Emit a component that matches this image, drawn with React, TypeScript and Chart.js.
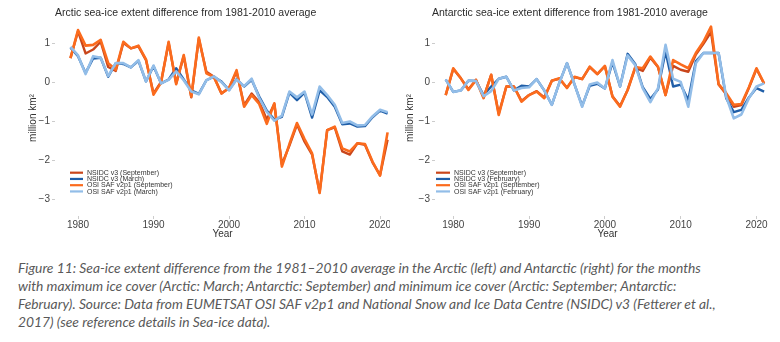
import React, { useEffect, useRef } from "react";
import { Chart, registerables } from "chart.js";

Chart.register(...registerables);

// ---------- data ----------
const YEARS = [
  1979, 1980, 1981, 1982, 1983, 1984, 1985, 1986, 1987, 1988, 1989, 1990, 1991, 1992, 1993,
  1994, 1995, 1996, 1997, 1998, 1999, 2000, 2001, 2002, 2003, 2004, 2005, 2006, 2007, 2008,
  2009, 2010, 2011, 2012, 2013, 2014, 2015, 2016, 2017, 2018, 2019, 2020, 2021,
];

const ARCTIC_NSIDC_SEP = [
  0.63, 1.32, 0.75, 0.85, 1.05, 0.4, 0.3, 1.02, 0.88, 0.93, 0.58, -0.28, 0.02, 1.02, -0.02,
  0.68, -0.38, 1.13, 0.28, 0.15, -0.28, -0.14, 0.28, -0.58, -0.28, -0.5, -0.95, -0.55, -2.1, -1.62,
  -1.08, -1.52, -1.85, -2.82, -1.22, -1.15, -1.77, -1.85, -1.56, -1.6, -2.05, -2.38, -1.47,
];
const ARCTIC_NSIDC_MAR = [
  0.9, 0.68, 0.25, 0.62, 0.64, 0.15, 0.5, 0.48, 0.39, 0.56, 0.03, 0.42, -0.02, 0.08, 0.37,
  0.08, -0.2, -0.29, 0.06, 0.15, 0.03, -0.19, 0.09, -0.1, 0.07, -0.36, -0.72, -0.95, -0.88, -0.26,
  -0.45, -0.26, -0.9, -0.2, -0.37, -0.62, -1.07, -1.05, -1.13, -1.12, -0.89, -0.72, -0.8,
];
const ARCTIC_OSI_SEP = [
  0.63, 1.35, 0.95, 0.97, 1.1, 0.5, 0.33, 1.05, 0.88, 0.95, 0.6, -0.31, 0.0, 1.05, -0.04,
  0.71, -0.36, 1.16, 0.24, 0.14, -0.28, -0.14, 0.32, -0.62, -0.32, -0.55, -1.06, -0.53, -2.16, -1.58,
  -1.04, -1.45, -1.82, -2.84, -1.22, -1.13, -1.69, -1.77, -1.56, -1.58, -2.03, -2.39, -1.28,
];
const ARCTIC_OSI_MAR = [
  0.92, 0.7, 0.22, 0.68, 0.64, 0.17, 0.5, 0.5, 0.39, 0.58, 0.03, 0.44, -0.02, 0.07, 0.29,
  0.06, -0.23, -0.3, 0.06, 0.16, 0.01, -0.2, 0.08, -0.09, 0.1, -0.4, -0.75, -0.98, -0.85, -0.23,
  -0.38, -0.23, -0.82, -0.1, -0.32, -0.57, -1.04, -1.0, -1.1, -1.09, -0.87, -0.7, -0.76,
];

const ANTARCTIC_NSIDC_SEP = [
  -0.32, 0.35, 0.11, -0.17, 0.07, -0.38, 0.2, -0.8, -0.1, -0.1, -0.47, -0.32, -0.22, -0.38, 0.05,
  0.1, -0.13, 0.14, 0.09, 0.4, 0.22, 0.42, -0.35, -0.6, -0.19, 0.38, 0.3, 0.64, 0.4, -0.32,
  0.43, 0.33, 0.28, 0.72, 1.0, 1.3, -0.05, -0.3, -0.62, -0.58, -0.14, 0.35, -0.03,
];
const ANTARCTIC_NSIDC_FEB = [
  0.08, -0.24, -0.2, 0.05, 0.04, -0.32, -0.1, 0.1, 0.15, -0.2, -0.08, -0.1, 0.09, -0.2, -0.57,
  0.0, 0.5, -0.05, -0.6, -0.08, -0.03, -0.15, 0.52, -0.1, 0.74, 0.48, -0.12, -0.42, -0.18, 0.8,
  -0.1, -0.05, -0.45, 0.55, 0.76, 0.76, 0.76, -0.4, -0.76, -0.7, -0.38, -0.14, -0.23,
];
const ANTARCTIC_OSI_SEP = [
  -0.32, 0.37, 0.11, -0.19, 0.07, -0.4, 0.2, -0.83, -0.1, -0.1, -0.49, -0.32, -0.23, -0.4, 0.05,
  0.11, -0.14, 0.15, 0.09, 0.41, 0.22, 0.43, -0.36, -0.62, -0.19, 0.4, 0.37, 0.67, 0.41, -0.32,
  0.58, 0.47, 0.37, 0.76, 1.05, 1.44, -0.04, -0.27, -0.57, -0.55, -0.12, 0.37, -0.02,
];
const ANTARCTIC_OSI_FEB = [
  0.08, -0.24, -0.2, 0.05, 0.04, -0.35, -0.22, 0.1, 0.15, -0.2, -0.14, -0.12, 0.09, -0.2, -0.57,
  0.0, 0.5, -0.05, -0.62, -0.05, 0.0, -0.15, 0.58, -0.1, 0.7, 0.45, -0.15, -0.5, -0.15, 0.97,
  0.1, 0.02, -0.62, 0.5, 0.76, 0.76, 0.76, -0.36, -0.92, -0.82, -0.4, -0.1, -0.02,
];

const X_TICKS = [1980, 1990, 2000, 2010, 2020];
const Y_TICKS = [-3, -2, -1, 0, 1];

const ARCTIC_LABELS = [
  "NSIDC v3 (September)",
  "NSIDC v3 (March)",
  "OSI SAF v2p1 (September)",
  "OSI SAF v2p1 (March)",
];
const ANTARCTIC_LABELS = [
  "NSIDC v3 (September)",
  "NSIDC v3 (February)",
  "OSI SAF v2p1 (September)",
  "OSI SAF v2p1 (February)",
];

const ARCTIC_TITLE = "Arctic sea-ice extent difference from 1981-2010 average";
const ANTARCTIC_TITLE = "Antarctic sea-ice extent difference from 1981-2010 average";
const Y_TITLE = "million km²";
const X_TITLE = "Year";

const CAPTION_LINES = [
  "Figure 11: Sea-ice extent difference from the 1981–2010 average in the Arctic (left) and Antarctic (right) for the months",
  "with maximum ice cover (Arctic: March; Antarctic: September) and minimum ice cover (Arctic: September; Antarctic:",
  "February). Source: Data from EUMETSAT OSI SAF v2p1 and National Snow and Ice Data Centre (NSIDC) v3 (Fetterer et al.,",
  "2017) (see reference details in Sea-ice data).",
];

// ---------- style ----------
const COLORS = ["#c9461b", "#1f5ea8", "#fb6b1d", "#92bde8"];
const FONT = '"Liberation Sans", Arial, sans-serif';

const overlayPlugin = {
  id: "overlay",
  afterDraw(chart: any, _args: any, opts: any) {
    const ctx = chart.ctx;
    ctx.save();
    ctx.font = `${opts.titleSize}px ${FONT}`;
    ctx.fillStyle = "#2b2b2b";
    ctx.textBaseline = "middle";
    ctx.textAlign = "left";
    ctx.fillText(opts.title, opts.titleX, opts.titleY);
    chart.data.datasets.forEach((ds: any, i: number) => {
      const y = opts.legendY + i * opts.legendStep;
      ctx.strokeStyle = ds.borderColor;
      ctx.lineWidth = 2.2;
      ctx.lineCap = "butt";
      ctx.beginPath();
      ctx.moveTo(opts.legendX, y);
      ctx.lineTo(opts.legendX + opts.legendLen, y);
      ctx.stroke();
      ctx.fillStyle = "#333333";
      ctx.font = `7px ${FONT}`;
      ctx.fillText(ds.label, opts.legendX + opts.legendLen + 4, y + 0.3);
    });
    ctx.restore();
  },
};

type Geom = {
  yWidth: number;
  yTitlePad: number;
  xMin: number;
  xMax: number;
  titleX: number;
  legendX: number;
  legendLen: number;
};

function Panel(props: {
  left: number;
  title: string;
  labels: string[];
  series: number[][];
  geom: Geom;
}) {
  const ref = useRef<HTMLCanvasElement>(null);
  useEffect(() => {
    const { title, labels, series, geom } = props;
    const chart = new Chart(ref.current as HTMLCanvasElement, {
      type: "line",
      data: {
        datasets: series.map((vals, i) => ({
          label: labels[i],
          data: YEARS.map((yr, j) => ({ x: yr, y: vals[j] })),
          borderColor: COLORS[i],
          backgroundColor: COLORS[i],
          borderWidth: i < 2 ? 2.4 : 2.6,
          pointRadius: 0,
          tension: 0,
          fill: false,
          borderJoinStyle: "round",
          order: series.length - i,
        })),
      },
      options: {
        responsive: false,
        animation: false,
        events: [],
        layout: { padding: { top: 20, left: 0, right: 0, bottom: 0 } },
        plugins: {
          legend: { display: false },
          tooltip: { enabled: false },
          title: { display: false },
          overlay: {
            title,
            titleX: geom.titleX,
            titleY: 13,
            titleSize: 10.5,
            legendX: geom.legendX,
            legendLen: geom.legendLen,
            legendY: 172.7,
            legendStep: 6.25,
          },
        } as any,
        scales: {
          x: {
            type: "linear",
            min: geom.xMin,
            max: geom.xMax,
            afterFit: (s: any) => {
              s.height = 29;
              s.paddingLeft = 0;
              s.paddingRight = 0;
            },
            afterBuildTicks: (s: any) => {
              s.ticks = X_TICKS.map((value) => ({ value }));
            },
            grid: { drawOnChartArea: false, drawTicks: true, tickLength: 3, tickColor: "#cccccc" },
            border: { display: false },
            ticks: {
              font: { family: FONT, size: 10 },
              color: "#444444",
              padding: 0,
              maxRotation: 0,
              autoSkip: false,
              callback: (v: any) => String(v),
            },
            title: {
              display: true,
              text: X_TITLE,
              font: { family: FONT, size: 10 },
              color: "#333333",
              padding: { top: 0, bottom: 5 },
            },
          },
          y: {
            type: "linear",
            min: -3.43,
            max: 1.61,
            afterFit: (s: any) => {
              s.width = geom.yWidth;
              s.paddingTop = 0;
              s.paddingBottom = 0;
            },
            afterBuildTicks: (s: any) => {
              s.ticks = Y_TICKS.map((value) => ({ value }));
            },
            grid: { drawOnChartArea: false, drawTicks: true, tickLength: 3, tickColor: "#cccccc" },
            border: { display: false },
            ticks: {
              font: { family: FONT, size: 10 },
              color: "#444444",
              padding: 2,
              callback: (v: any) => (v < 0 ? "\u2212" + Math.abs(v) : String(v)),
            },
            title: {
              display: true,
              text: Y_TITLE,
              font: { family: FONT, size: 10 },
              color: "#333333",
              padding: { top: geom.yTitlePad, bottom: 0 },
            },
          },
        },
      },
      plugins: [overlayPlugin as any],
    });
    return () => chart.destroy();
  }, []);
  return (
    <canvas
      ref={ref}
      width={390}
      height={245}
      style={{ position: "absolute", left: props.left, top: 0, width: 390, height: 245 }}
    />
  );
}

export default function App() {
  return (
    <div
      style={{
        position: "fixed",
        left: 0,
        top: 0,
        width: 780,
        height: 342,
        background: "#ffffff",
        overflow: "hidden",
      }}
    >
      <Panel
        left={0}
        title={ARCTIC_TITLE}
        labels={ARCTIC_LABELS}
        series={[ARCTIC_NSIDC_SEP, ARCTIC_NSIDC_MAR, ARCTIC_OSI_SEP, ARCTIC_OSI_MAR]}
        geom={{ yWidth: 55, yTitlePad: 27, xMin: 1976.95, xMax: 2021.32, titleX: 55, legendX: 70, legendLen: 13 }}
      />
      <Panel
        left={390}
        title={ANTARCTIC_TITLE}
        labels={ANTARCTIC_LABELS}
        series={[ANTARCTIC_NSIDC_SEP, ANTARCTIC_NSIDC_FEB, ANTARCTIC_OSI_SEP, ANTARCTIC_OSI_FEB]}
        geom={{ yWidth: 45, yTitlePad: 14, xMin: 1977.59, xMax: 2023.1, titleX: 42, legendX: 46, legendLen: 14 }}
      />
      <div
        style={{
          position: "absolute",
          left: 18,
          top: 259,
          fontFamily: "Lato, 'Open Sans', sans-serif",
          fontStyle: "italic",
          fontSize: 13.8,
          lineHeight: "18px",
          color: "#595959",
          whiteSpace: "nowrap",
        }}
      >
        {CAPTION_LINES.map((l, i) => (
          <div key={i}>{l}</div>
        ))}
      </div>
    </div>
  );
}
